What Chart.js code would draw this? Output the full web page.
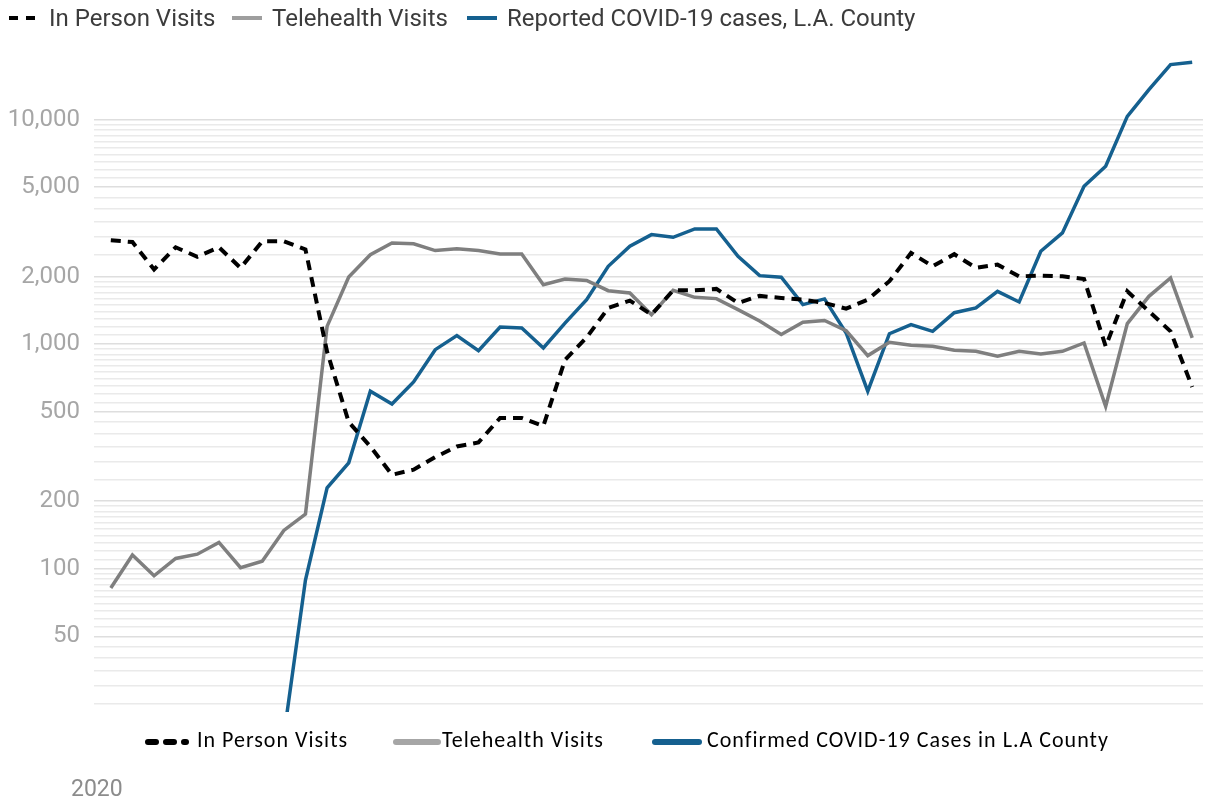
<!DOCTYPE html>
<html>
<head>
<meta charset="utf-8">
<title>Visits vs COVID-19 cases, 2020</title>
<script src="https://cdn.jsdelivr.net/npm/chart.js@4.4.1/dist/chart.umd.min.js"></script>
<style>
  html, body { margin: 0; padding: 0; background: #fff; }
  #wrap { position: relative; width: 1207px; height: 804px; overflow: hidden; }
  #chart { position: absolute; left: 0; top: 0; }
  .key { position: absolute; white-space: nowrap; }
  .key-top { font-family: Roboto, sans-serif; font-size: 24px; line-height: 28px; color: #3c3c3c; top: 4px; }
  .key-bottom { font-family: Calibri, Carlito, Lato, sans-serif; font-size: 22px; line-height: 26px;
                letter-spacing: 1px; color: #000; top: 727px; }
  .year { position: absolute; left: 71px; top: 775px; font-family: Roboto, sans-serif;
          font-size: 23px; line-height: 27px; color: #8c8c8c; }
  svg.sym { position: absolute; }
</style>
</head>
<body>
<div id="wrap">
  <canvas id="chart" width="1207" height="804"></canvas>

  <!-- top key -->
  <svg class="sym" style="left:9px;top:5px" width="30" height="26">
    <line x1="0" y1="13" x2="26" y2="13" stroke="#000" stroke-width="4" stroke-dasharray="9 8"/>
  </svg>
  <span class="key key-top" style="left:49px">In Person Visits</span>
  <svg class="sym" style="left:232px;top:5px" width="30" height="26">
    <line x1="0" y1="13" x2="30" y2="13" stroke="#9e9e9e" stroke-width="4"/>
  </svg>
  <span class="key key-top" style="left:272px">Telehealth Visits</span>
  <svg class="sym" style="left:467px;top:5px" width="30" height="26">
    <line x1="0" y1="13" x2="30" y2="13" stroke="#15608f" stroke-width="4"/>
  </svg>
  <span class="key key-top" style="left:507px">Reported COVID-19 cases, L.A. County</span>

  <!-- bottom key -->
  <svg class="sym" style="left:140px;top:730px" width="56" height="24">
    <line x1="8" y1="12" x2="46" y2="12" stroke="#000" stroke-width="6" stroke-linecap="round" stroke-dasharray="8 10"/>
  </svg>
  <span class="key key-bottom" style="left:197px">In Person Visits</span>
  <svg class="sym" style="left:390px;top:730px" width="54" height="24">
    <line x1="6" y1="12" x2="48" y2="12" stroke="#a6a6a6" stroke-width="6" stroke-linecap="round"/>
  </svg>
  <span class="key key-bottom" style="left:442px">Telehealth Visits</span>
  <svg class="sym" style="left:649px;top:730px" width="56" height="24">
    <line x1="6" y1="12" x2="50" y2="12" stroke="#15608f" stroke-width="6" stroke-linecap="round"/>
  </svg>
  <span class="key key-bottom" style="left:707px">Confirmed COVID-19 Cases in L.A County</span>

  <div class="year">2020</div>
</div>

<script>
/* Weekly counts for 2020 (51 weeks) */
var WEEKS = Array.from({ length: 51 }, function (_, i) { return 'Week ' + (i + 1); });

var IN_PERSON = [
  2900, 2850, 2150, 2700, 2450, 2700, 2185, 2870, 2870, 2640,
  926, 450, 350, 262, 276, 314, 350, 365, 469, 469,
  432, 850, 1070, 1449, 1563, 1353, 1736, 1736, 1762, 1526,
  1640, 1606, 1579, 1526, 1439, 1579, 1906, 2547, 2222, 2515,
  2185, 2260, 2004, 2019, 2004, 1951, 978, 1719, 1400, 1140, 645
];

var TELEHEALTH = [
  82, 115, 93, 111, 116, 131, 101, 108, 148, 175,
  1200, 1990, 2500, 2820, 2800, 2610, 2660, 2610, 2520, 2520,
  1840, 1950, 1920, 1730, 1690, 1353, 1736, 1616, 1595, 1425,
  1268, 1103, 1251, 1275, 1148, 889, 1019, 988, 978, 940,
  929, 883, 929, 905, 929, 1012, 528, 1234, 1633, 1971, 1067
];

/* early weeks sit below the bottom of the axis and can't be read */
var CASES = [
  null, null, null, null, null, null, null, null, 18, 89,
  229, 296, 617, 541, 679, 945, 1091, 936, 1192, 1180,
  962, 1240, 1579, 2222, 2727, 3075, 2992, 3260, 3260, 2462,
  2019, 1985, 1500, 1590, 1121, 617, 1113, 1222, 1140, 1380,
  1449, 1719, 1541, 2592, 3128, 5047, 6194, 10340, 13600, 17580, 18000
];

/* labelled y ticks */
var Y_LABELS = [50, 100, 200, 500, 1000, 2000, 5000, 10000];
var Y_MIN = 23;
var Y_MAX = 20000;

var IN_PERSON_COLOUR = '#000000';
var TELEHEALTH_COLOUR = '#7f7f7f';
var CASES_COLOUR = '#15608f';

/* Grid lines: 1x-2x of each decade in tenths, 2x-10x in halves */
function gridValues() {
  var out = [];
  [10, 100, 1000].forEach(function (b) {
    for (var v = b; v < 2 * b; v += b / 10) out.push(v);
    for (var w = 2 * b; w < 10 * b; w += b / 2) out.push(w);
  });
  out.push(10000);
  return out.filter(function (v) { return v >= 25; });
}

new Chart(document.getElementById('chart').getContext('2d'), {
  type: 'line',
  data: {
    labels: WEEKS,
    datasets: [
      {
        label: 'In Person Visits',
        data: IN_PERSON,
        borderColor: IN_PERSON_COLOUR,
        borderWidth: 4,
        borderDash: [10, 7],
        pointRadius: 0,
        tension: 0
      },
      {
        label: 'Telehealth Visits',
        data: TELEHEALTH,
        borderColor: TELEHEALTH_COLOUR,
        borderWidth: 3.5,
        pointRadius: 0,
        tension: 0
      },
      {
        label: 'Reported COVID-19 cases, L.A. County',
        data: CASES,
        borderColor: CASES_COLOUR,
        borderWidth: 3.5,
        pointRadius: 0,
        tension: 0
      }
    ]
  },
  options: {
    responsive: false,
    animation: false,
    layout: { padding: { top: 52, right: 4, bottom: 92, left: 0 } },
    scales: {
      x: {
        type: 'category',
        display: false,
        offset: true
      },
      y: {
        type: 'logarithmic',
        min: Y_MIN,
        max: Y_MAX,
        afterBuildTicks: function (axis) {
          axis.ticks = gridValues().map(function (v) { return { value: v }; });
        },
        afterFit: function (axis) { axis.width = 100; },
        border: { display: false },
        grid: {
          color: function (ctx) {
            return ctx.tick && Y_LABELS.indexOf(ctx.tick.value) >= 0 ? '#dedede' : '#eaeaea';
          },
          lineWidth: 1.5,
          drawTicks: true,
          tickLength: 6
        },
        ticks: {
          autoSkip: false,
          padding: 14,
          color: '#a6a6a6',
          font: { family: 'Roboto', size: 24 },
          callback: function (value) {
            return Y_LABELS.indexOf(value) >= 0 ? value.toLocaleString('en-US') : '';
          }
        }
      }
    },
    plugins: {
      legend: { display: false },
      tooltip: { enabled: false }
    }
  }
});
</script>
</body>
</html>
